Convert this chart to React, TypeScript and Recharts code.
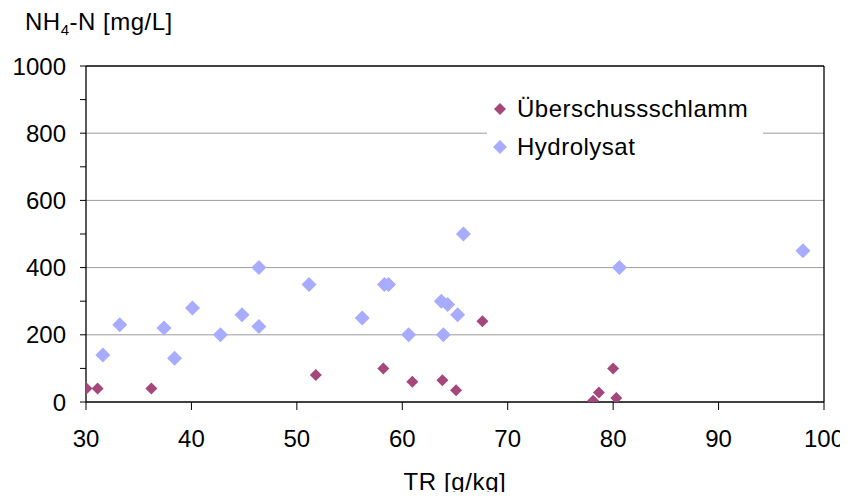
import React from 'react';
import { ScatterChart, Scatter, XAxis, YAxis, CartesianGrid, ReferenceLine, Legend } from 'recharts';

const uberTR = [30.05, 31.1, 36.2, 51.8, 58.2, 60.95, 63.8, 65.1, 67.6, 78.1, 78.65, 80.0, 80.3];
const uberNH4 = [40, 40, 40, 80, 100, 60, 65, 35, 240, 4, 28, 100, 12];
const hydroTR = [31.6, 33.2, 37.4, 38.4, 40.1, 42.75, 44.8, 46.4, 46.4, 51.15, 56.2, 58.3, 58.7, 60.6, 63.7, 64.3, 63.9, 65.25, 65.8, 80.6, 98.0];
const hydroNH4 = [140, 230, 220, 130, 280, 200, 260, 400, 225, 350, 250, 350, 350, 200, 300, 290, 200, 260, 500, 400, 450];

const xTicks = [30, 40, 50, 60, 70, 80, 90, 100];
const yTicks = [0, 100, 200, 300, 400, 500, 600, 700, 800, 900, 1000];
const gridValues = [200, 400, 600, 800];

const UBER_COLOR = '#A4477A';
const HYDRO_COLOR = '#A8ACFF';
const FONT = '"Liberation Sans", Arial, sans-serif';

const uberData = uberTR.map((x, i) => ({ x, y: uberNH4[i] }));
const hydroData = hydroTR.map((x, i) => ({ x, y: hydroNH4[i] }));

const makeDiamond = (half: number, color: string) => (props: any) => {
  const { cx, cy } = props;
  if (cx == null || cy == null) return <g />;
  return (
    <polygon
      points={`${cx},${cy - half} ${cx + half},${cy} ${cx},${cy + half} ${cx - half},${cy}`}
      fill={color}
    />
  );
};

const YTick = (props: any) => {
  const { x, y, payload } = props;
  if (payload.value % 200 !== 0) return <g />;
  return (
    <text x={x} y={y} dy="0.36em" textAnchor="end" fontSize={24} fill="#000" fontFamily={FONT}>
      {payload.value}
    </text>
  );
};

const LegendContent = () => (
  <div style={{ width: '100%', height: '100%', background: '#fff', fontFamily: FONT, fontSize: 24, color: '#000', letterSpacing: 0.5 }}>
    <div style={{ position: 'absolute', left: 6, top: 7, display: 'flex', alignItems: 'center', height: 28 }}>
      <svg width={14} height={14} style={{ marginRight: 10 }}>
        <polygon points="7,1 13,7 7,13 1,7" fill={UBER_COLOR} />
      </svg>
      <span>Überschussschlamm</span>
    </div>
    <div style={{ position: 'absolute', left: 5, top: 45, display: 'flex', alignItems: 'center', height: 28 }}>
      <svg width={16} height={16} style={{ marginRight: 9 }}>
        <polygon points="8,1 15,8 8,15 1,8" fill={HYDRO_COLOR} />
      </svg>
      <span>Hydrolysat</span>
    </div>
  </div>
);

export default function App() {
  return (
    <div style={{ margin: -8, width: 848, height: 500, background: '#fff', fontFamily: FONT }}>
      <ScatterChart width={848} height={500} margin={{ top: 66, right: 24, left: 0, bottom: 0 }} style={{ fontFamily: FONT }}>
        <CartesianGrid horizontal vertical={false} horizontalValues={gridValues} stroke="#9c9c9c" strokeWidth={1} />
        <XAxis
          type="number"
          dataKey="x"
          domain={[30, 100]}
          ticks={xTicks}
          height={98}
          tickSize={8}
          tickMargin={20}
          stroke="#000"
          tick={{ fill: '#000', fontSize: 24 }}
          axisLine={{ stroke: '#000', strokeWidth: 1.3 }}
          tickLine={{ stroke: '#000' }}
          label={{ value: 'TR [g/kg]', position: 'insideBottom', offset: 10, fill: '#000', fontSize: 24, style: { letterSpacing: 0.6 } }}
          allowDataOverflow
        />
        <YAxis
          type="number"
          dataKey="y"
          domain={[0, 1000]}
          ticks={yTicks}
          interval={0}
          width={86}
          tickSize={6}
          tickMargin={14}
          stroke="#000"
          tick={<YTick />}
          axisLine={{ stroke: '#000', strokeWidth: 1.3 }}
          tickLine={{ stroke: '#000' }}
          label={() => (
            <text x={25} y={30} fontSize={24} fill="#000" fontFamily={FONT} style={{ letterSpacing: 0.5 }}>
              NH<tspan fontSize={15} dy={5}>4</tspan><tspan dy={-5}>-N [mg/L]</tspan>
            </text>
          )}
          allowDataOverflow
        />
        <ReferenceLine y={1000} stroke="#000" strokeWidth={1.3} />
        <ReferenceLine x={100} stroke="#000" strokeWidth={1.3} />
        <Legend
          layout="vertical"
          align="center"
          verticalAlign="middle"
          content={<LegendContent />}
          wrapperStyle={{ position: 'absolute', left: 487, top: 88, width: 276, height: 80 }}
        />
        <Scatter name="Überschussschlamm" data={uberData} fill={UBER_COLOR} shape={makeDiamond(6, UBER_COLOR)} isAnimationActive={false} />
        <Scatter name="Hydrolysat" data={hydroData} fill={HYDRO_COLOR} shape={makeDiamond(7.5, HYDRO_COLOR)} isAnimationActive={false} />
      </ScatterChart>
    </div>
  );
}
